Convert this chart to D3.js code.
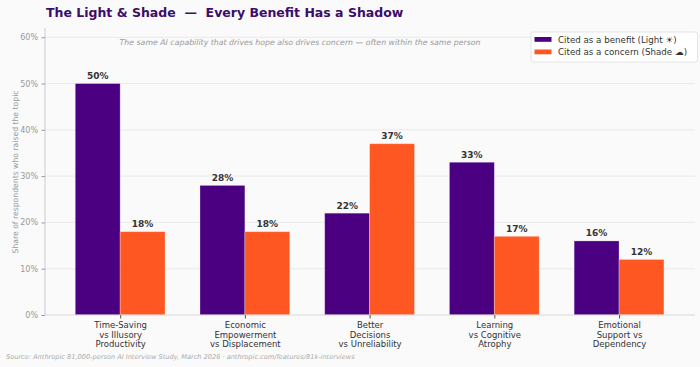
<!DOCTYPE html>
<html>
<head>
<meta charset="utf-8">
<script src="https://cdn.jsdelivr.net/npm/d3@7"></script>
<style>
  body { margin: 0; background: #fafafa; }
  svg { display: block; font-family: "DejaVu Sans", sans-serif; }
</style>
</head>
<body>
<div id="chart"></div>
<script>
// Chart data
const categories = [
  ["Time-Saving", "vs Illusory", "Productivity"],
  ["Economic", "Empowerment", "vs Displacement"],
  ["Better", "Decisions", "vs Unreliability"],
  ["Learning", "vs Cognitive", "Atrophy"],
  ["Emotional", "Support vs", "Dependency"]
];
const benefitValues = [50, 28, 22, 33, 16];
const concernValues = [18, 18, 37, 17, 12];
const yTicks = [0, 10, 20, 30, 40, 50, 60];
const seriesNames = ["Cited as a benefit (Light \u2600)", "Cited as a concern (Shade \u2601)"];
const colors = ["#4b0082", "#ff5722"];

const width = 700, height = 367;
const margin = { top: 28, right: 5, bottom: 52, left: 45 };
const innerW = width - margin.left - margin.right;
const innerH = height - margin.top - margin.bottom;

const svg = d3.select("#chart").append("svg")
    .attr("width", width)
    .attr("height", height);

svg.append("rect").attr("width", width).attr("height", height).attr("fill", "#fafafa");

const g = svg.append("g")
    .attr("transform", `translate(${margin.left},${margin.top})`);

// x positions: index scale with matplotlib-like margins
const barW = 0.36;
const x = d3.scaleLinear().domain([-0.585, categories.length - 1 + 0.585]).range([2.2, 647]);
const y = d3.scaleLinear().domain([0, 62]).range([innerH, 0]);

// Gridlines
g.selectAll(".grid").data(yTicks).enter().append("line")
    .attr("class", "grid")
    .attr("x1", 0).attr("x2", innerW)
    .attr("y1", d => y(d)).attr("y2", d => y(d))
    .attr("stroke", "#e6e6e6").attr("stroke-width", 0.8);

// Bars
const series = [benefitValues, concernValues];
series.forEach((vals, s) => {
  const off = s === 0 ? -barW / 2 : barW / 2;
  g.selectAll(".bar" + s).data(vals).enter().append("rect")
      .attr("class", "bar" + s)
      .attr("x", (d, i) => x(i + off - barW / 2))
      .attr("width", x(barW) - x(0))
      .attr("y", d => y(d))
      .attr("height", d => y(0) - y(d))
      .attr("fill", colors[s])
      .attr("stroke", "#ffffff").attr("stroke-opacity", 0.35).attr("stroke-width", 0.8);

  g.selectAll(".val" + s).data(vals).enter().append("text")
      .attr("x", (d, i) => x(i + off))
      .attr("y", d => y(d) - 4.5)
      .attr("text-anchor", "middle")
      .attr("font-size", 9)
      .attr("font-weight", "bold")
      .attr("fill", "#333")
      .text(d => d + "%");
});

// Y axis
const yAxis = g.append("g")
    .call(d3.axisLeft(y).tickValues(yTicks).tickFormat(d => d + "%").tickSize(3.5).tickPadding(3.5));
yAxis.select(".domain").attr("stroke", "#cccccc").attr("d", `M0,${innerH}V0`);
yAxis.selectAll(".tick line").attr("stroke", "#999");
yAxis.selectAll(".tick text").attr("fill", "#999").attr("font-size", 8).attr("font-family", "DejaVu Sans");

// X axis
const xAxis = g.append("g")
    .attr("transform", `translate(0,${innerH})`)
    .call(d3.axisBottom(x).tickValues(d3.range(categories.length)).tickFormat("").tickSize(3.5));
xAxis.select(".domain").attr("stroke", "#e0e0e0").attr("d", `M0,0H${innerW}`);
xAxis.selectAll(".tick line").attr("stroke", "#555");
xAxis.selectAll(".tick").each(function(d) {
  const t = d3.select(this).append("text")
      .attr("text-anchor", "middle")
      .attr("fill", "#333")
      .attr("font-size", 8.5)
      .attr("font-family", "DejaVu Sans");
  categories[d].forEach((line, k) => {
    t.append("tspan").attr("x", 0).attr("y", 13 + k * 9.6).text(line);
  });
});

// Y label
svg.append("text")
    .attr("transform", `translate(17.5,172) rotate(-90)`)
    .attr("text-anchor", "middle")
    .attr("fill", "#999")
    .attr("font-size", 7.7)
    .text("Share of respondents who raised the topic");

// Title
svg.append("text")
    .attr("x", 46).attr("y", 16.5)
    .attr("fill", "#3c0d6b")
    .attr("font-size", 12.5)
    .attr("font-weight", "bold")
    .attr("xml:space", "preserve")
    .style("white-space", "pre")
    .text("The Light & Shade  \u2014  Every Benefit Has a Shadow");

// Subtitle
svg.append("text")
    .attr("x", 300).attr("y", 45)
    .attr("text-anchor", "middle")
    .attr("fill", "#999")
    .attr("font-size", 7.8)
    .attr("font-style", "italic")
    .text("The same AI capability that drives hope also drives concern \u2014 often within the same person");

// Legend
const lg = svg.append("g").attr("transform", "translate(531,32)");
lg.append("rect")
    .attr("width", 166.5).attr("height", 30).attr("rx", 2)
    .attr("fill", "#ffffff").attr("stroke", "#dddddd").attr("stroke-width", 0.8);
seriesNames.forEach((name, i) => {
  lg.append("rect").attr("x", 3.5).attr("y", 5 + i * 12.5).attr("width", 17).attr("height", 4.8).attr("fill", colors[i]);
  lg.append("text").attr("x", 27).attr("y", 10.6 + i * 12.5)
      .attr("font-size", 8.7).attr("fill", "#333").text(name);
});

// Source
svg.append("text")
    .attr("x", 6).attr("y", 358.5)
    .attr("fill", "#aaa")
    .attr("font-size", 6.6)
    .attr("font-style", "italic")
    .text("Source: Anthropic 81,000-person AI Interview Study, March 2026  \u00b7  anthropic.com/features/81k-interviews");
</script>
</body>
</html>
